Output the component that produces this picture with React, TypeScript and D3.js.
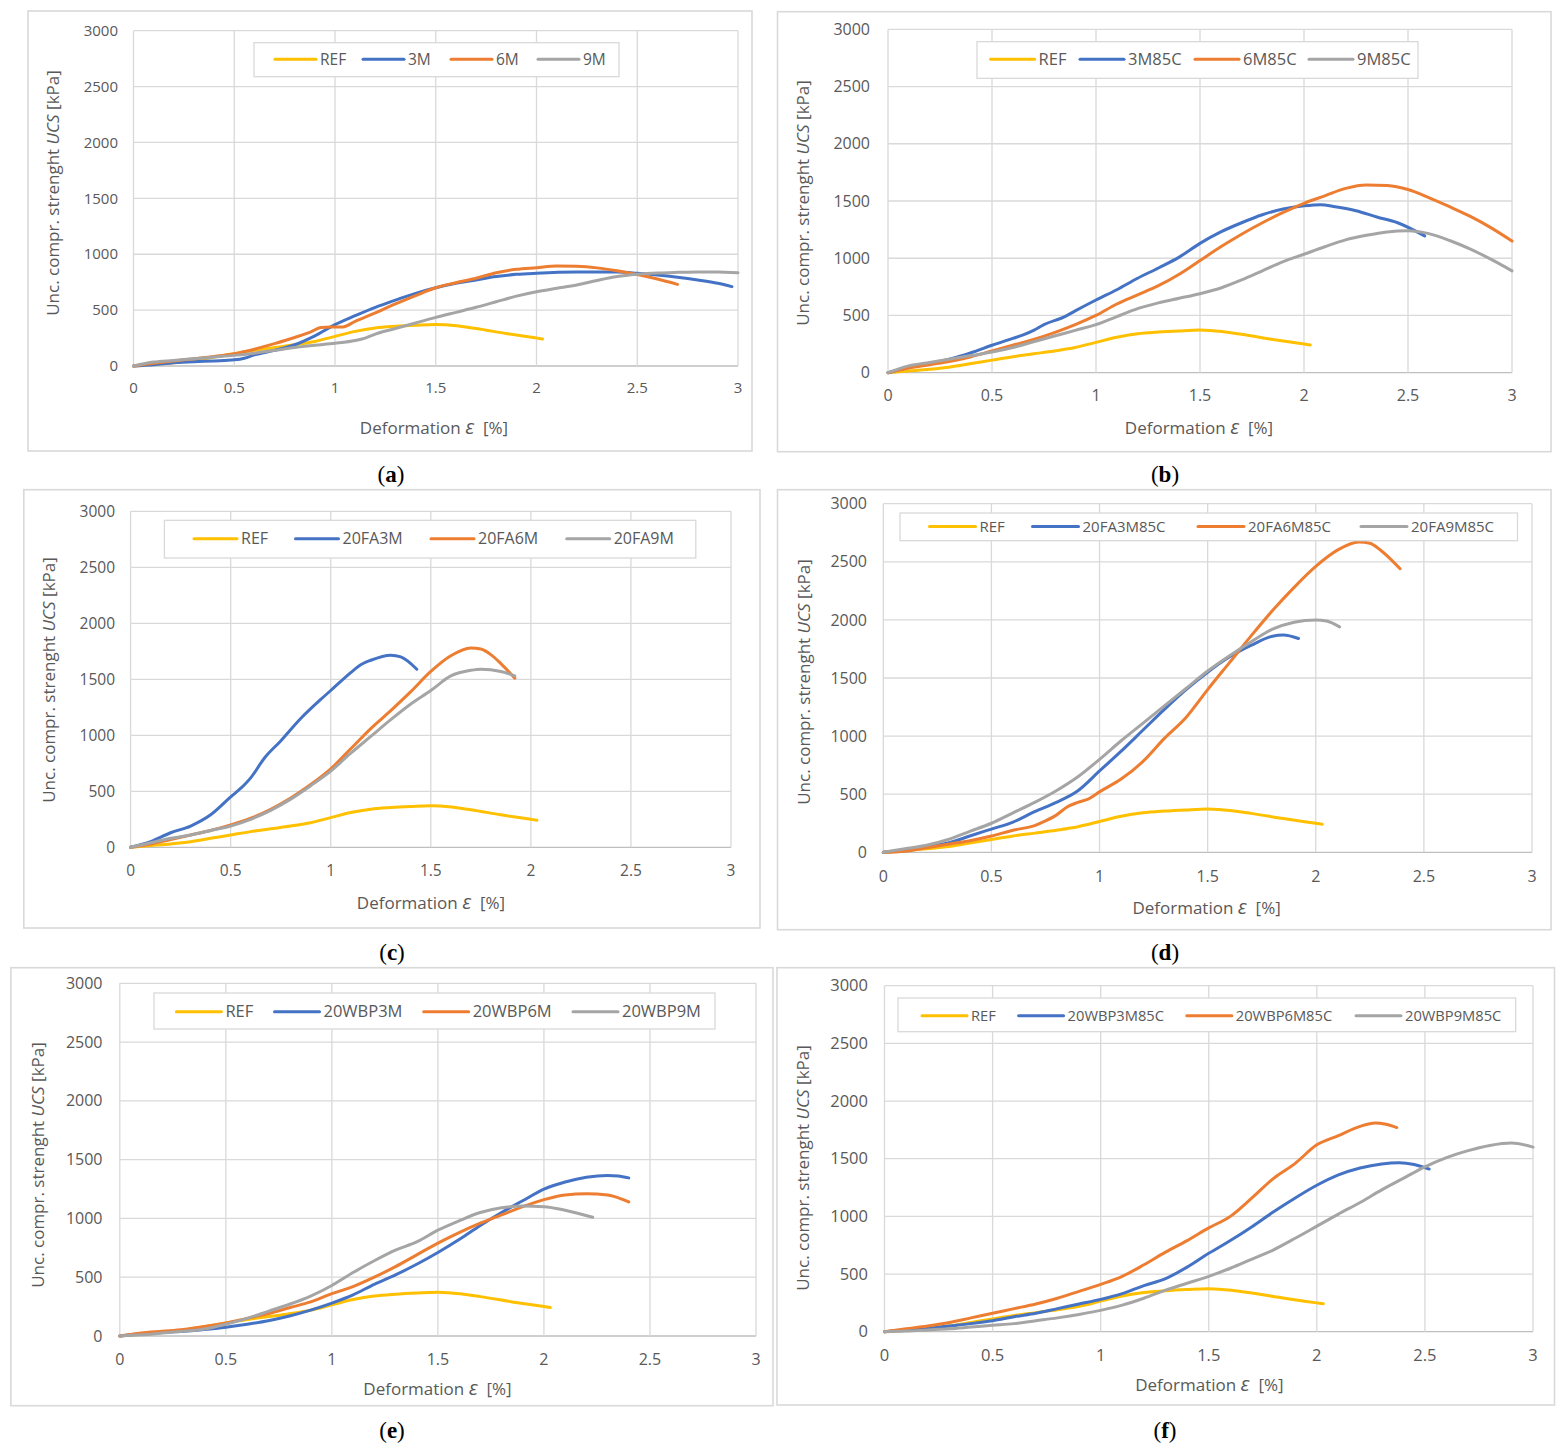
import React from "react";
import * as d3 from "d3";

type Pt = [number, number];

// ---------- data (deformation %, UCS kPa) ----------
const REF: Pt[] = [[0,0],[0.1,15],[0.2,30],[0.3,50],[0.4,80],[0.5,110],[0.6,140],[0.7,165],[0.8,190],[0.9,220],[1.0,265],[1.1,310],[1.2,340],[1.3,355],[1.4,365],[1.5,372],[1.55,368],[1.7,335],[1.85,290],[2.0,250],[2.03,242]];

const A_3M: Pt[] = [[0,0],[0.1,12],[0.2,28],[0.3,38],[0.4,45],[0.5,55],[0.55,70],[0.6,100],[0.7,140],[0.8,190],[0.9,270],[1.0,370],[1.1,450],[1.2,525],[1.3,590],[1.4,650],[1.5,700],[1.6,740],[1.7,770],[1.8,800],[1.9,820],[2.0,830],[2.2,840],[2.4,840],[2.5,830],[2.6,815],[2.7,795],[2.8,770],[2.9,740],[2.97,710]];
const A_6M: Pt[] = [[0,0],[0.1,25],[0.2,45],[0.3,65],[0.4,85],[0.5,110],[0.6,150],[0.7,200],[0.8,255],[0.88,305],[0.93,345],[0.98,350],[1.04,350],[1.1,400],[1.2,475],[1.3,555],[1.4,630],[1.5,700],[1.6,745],[1.7,785],[1.8,835],[1.9,865],[2.0,880],[2.1,895],[2.2,892],[2.3,878],[2.4,852],[2.5,818],[2.6,778],[2.7,730]];
const A_9M: Pt[] = [[0,0],[0.1,35],[0.2,50],[0.3,65],[0.4,80],[0.5,95],[0.6,115],[0.7,140],[0.8,165],[0.9,185],[1.0,203],[1.1,228],[1.15,250],[1.2,285],[1.3,335],[1.4,385],[1.5,435],[1.6,480],[1.7,525],[1.8,575],[1.9,625],[2.0,665],[2.1,695],[2.2,725],[2.3,765],[2.4,800],[2.5,820],[2.6,832],[2.7,838],[2.8,842],[2.9,840],[3.0,835]];

const B_3M85C: Pt[] = [[0,0],[0.1,45],[0.2,80],[0.3,120],[0.4,175],[0.5,240],[0.6,300],[0.65,330],[0.7,370],[0.75,420],[0.85,490],[0.9,540],[1.0,635],[1.1,725],[1.2,825],[1.3,915],[1.4,1010],[1.5,1130],[1.6,1230],[1.7,1310],[1.8,1380],[1.9,1430],[2.0,1458],[2.08,1468],[2.15,1450],[2.25,1415],[2.35,1360],[2.45,1310],[2.58,1195]];
const B_6M85C: Pt[] = [[0,0],[0.1,40],[0.2,70],[0.3,100],[0.4,140],[0.5,190],[0.6,240],[0.7,290],[0.8,350],[0.9,420],[1.0,500],[1.1,600],[1.2,680],[1.3,760],[1.4,860],[1.5,980],[1.6,1100],[1.7,1210],[1.8,1310],[1.9,1400],[2.0,1480],[2.1,1545],[2.2,1610],[2.3,1640],[2.4,1635],[2.5,1600],[2.6,1530],[2.7,1450],[2.8,1365],[2.9,1265],[3.0,1150]];
const B_9M85C: Pt[] = [[0,0],[0.1,60],[0.2,90],[0.3,120],[0.4,150],[0.5,180],[0.6,220],[0.7,270],[0.8,320],[0.9,370],[1.0,420],[1.1,490],[1.2,560],[1.3,610],[1.4,650],[1.5,690],[1.6,740],[1.7,810],[1.8,890],[1.9,970],[2.0,1035],[2.1,1100],[2.2,1160],[2.3,1200],[2.4,1230],[2.5,1240],[2.6,1215],[2.7,1155],[2.8,1080],[2.9,990],[3.0,890]];

const C_20FA3M: Pt[] = [[0,0],[0.1,50],[0.2,130],[0.3,190],[0.4,290],[0.5,450],[0.57,560],[0.6,620],[0.67,800],[0.75,950],[0.85,1150],[0.95,1320],[1.0,1400],[1.1,1560],[1.15,1630],[1.2,1670],[1.3,1715],[1.35,1700],[1.43,1590]];
const C_20FA6M: Pt[] = [[0,0],[0.1,30],[0.2,70],[0.3,110],[0.4,150],[0.5,200],[0.6,260],[0.7,340],[0.8,440],[0.9,560],[1.0,700],[1.1,880],[1.2,1060],[1.3,1220],[1.4,1390],[1.5,1570],[1.6,1710],[1.7,1780],[1.75,1770],[1.8,1720],[1.85,1640],[1.92,1510]];
const C_20FA9M: Pt[] = [[0,0],[0.1,40],[0.2,80],[0.3,110],[0.4,150],[0.5,190],[0.6,250],[0.7,330],[0.8,430],[0.9,550],[1.0,680],[1.1,840],[1.2,990],[1.3,1140],[1.4,1280],[1.5,1400],[1.6,1530],[1.7,1580],[1.75,1590],[1.85,1570],[1.92,1530]];

const D_20FA3M85C: Pt[] = [[0,0],[0.1,20],[0.2,50],[0.3,80],[0.4,140],[0.5,200],[0.6,260],[0.7,350],[0.8,430],[0.9,530],[1.0,700],[1.1,870],[1.2,1050],[1.3,1230],[1.4,1400],[1.5,1550],[1.6,1680],[1.7,1780],[1.8,1860],[1.85,1870],[1.92,1840]];
const D_20FA6M85C: Pt[] = [[0,0],[0.1,10],[0.2,40],[0.3,70],[0.4,100],[0.5,140],[0.6,190],[0.7,230],[0.75,270],[0.8,320],[0.85,390],[0.9,430],[0.95,460],[1.0,520],[1.1,630],[1.2,780],[1.3,980],[1.4,1160],[1.5,1400],[1.6,1630],[1.7,1860],[1.8,2080],[1.9,2280],[2.0,2460],[2.1,2600],[2.2,2670],[2.25,2660],[2.3,2600],[2.39,2440]];
const D_20FA9M85C: Pt[] = [[0,0],[0.1,30],[0.2,60],[0.3,110],[0.4,180],[0.5,250],[0.6,340],[0.7,430],[0.8,530],[0.9,650],[1.0,800],[1.1,960],[1.2,1110],[1.3,1260],[1.4,1410],[1.5,1560],[1.6,1690],[1.7,1810],[1.8,1920],[1.9,1980],[2.0,2000],[2.05,1990],[2.11,1940]];

const E_20WBP3M: Pt[] = [[0,0],[0.1,20],[0.2,30],[0.3,40],[0.4,55],[0.5,75],[0.6,100],[0.7,130],[0.8,170],[0.9,220],[1.0,280],[1.1,350],[1.2,440],[1.3,520],[1.4,610],[1.5,710],[1.6,820],[1.7,940],[1.8,1050],[1.9,1150],[2.0,1250],[2.1,1310],[2.2,1350],[2.3,1365],[2.35,1360],[2.4,1345]];
const E_20WBP6M: Pt[] = [[0,0],[0.1,25],[0.2,40],[0.3,55],[0.4,80],[0.5,110],[0.6,150],[0.7,190],[0.8,240],[0.9,290],[1.0,360],[1.1,420],[1.2,500],[1.3,590],[1.4,690],[1.5,790],[1.6,880],[1.7,960],[1.8,1030],[1.9,1100],[2.0,1160],[2.1,1200],[2.2,1210],[2.3,1200],[2.4,1140]];
const E_20WBP9M: Pt[] = [[0,0],[0.1,10],[0.2,25],[0.3,40],[0.4,60],[0.5,100],[0.6,150],[0.7,210],[0.8,270],[0.9,340],[1.0,430],[1.1,540],[1.2,640],[1.3,730],[1.4,800],[1.5,900],[1.6,980],[1.7,1050],[1.8,1090],[1.9,1105],[2.0,1100],[2.1,1070],[2.23,1010]];

const F_20WBP3M85C: Pt[] = [[0,0],[0.1,15],[0.2,30],[0.3,50],[0.4,70],[0.5,95],[0.6,130],[0.7,160],[0.8,200],[0.9,240],[1.0,280],[1.1,330],[1.2,400],[1.3,460],[1.4,560],[1.5,680],[1.6,790],[1.7,910],[1.8,1040],[1.9,1160],[2.0,1270],[2.1,1360],[2.2,1420],[2.3,1455],[2.38,1465],[2.45,1450],[2.52,1410]];
const F_20WBP6M85C: Pt[] = [[0,0],[0.1,25],[0.2,50],[0.3,80],[0.4,120],[0.5,160],[0.6,200],[0.7,240],[0.8,290],[0.9,350],[1.0,410],[1.1,480],[1.2,580],[1.3,690],[1.4,790],[1.5,900],[1.6,1000],[1.7,1160],[1.8,1330],[1.9,1460],[2.0,1620],[2.1,1700],[2.2,1780],[2.27,1810],[2.32,1798],[2.37,1770]];
const F_20WBP9M85C: Pt[] = [[0,0],[0.1,5],[0.2,15],[0.3,25],[0.4,40],[0.5,55],[0.6,70],[0.7,95],[0.8,120],[0.9,150],[1.0,185],[1.1,230],[1.2,290],[1.3,360],[1.4,420],[1.5,480],[1.6,550],[1.7,630],[1.8,710],[1.9,810],[2.0,915],[2.1,1020],[2.2,1120],[2.3,1230],[2.4,1330],[2.5,1430],[2.6,1510],[2.7,1570],[2.8,1615],[2.9,1636],[3.0,1600]];

const X_TICKS = [0, 0.5, 1, 1.5, 2, 2.5, 3];
const Y_TICKS = [0, 500, 1000, 1500, 2000, 2500, 3000];

const SERIES_COLORS = ["#FFC000", "#4472C4", "#ED7D31", "#A5A5A5"];

const PANEL_LABELS = ["a", "b", "c", "d", "e", "f"];
const PANEL_NAMES: string[][] = [
  ["REF", "3M", "6M", "9M"],
  ["REF", "3M85C", "6M85C", "9M85C"],
  ["REF", "20FA3M", "20FA6M", "20FA9M"],
  ["REF", "20FA3M85C", "20FA6M85C", "20FA9M85C"],
  ["REF", "20WBP3M", "20WBP6M", "20WBP9M"],
  ["REF", "20WBP3M85C", "20WBP6M85C", "20WBP9M85C"],
];
const PANEL_DATA: Pt[][][] = [
  [REF, A_3M, A_6M, A_9M],
  [REF, B_3M85C, B_6M85C, B_9M85C],
  [REF, C_20FA3M, C_20FA6M, C_20FA9M],
  [REF, D_20FA3M85C, D_20FA6M85C, D_20FA9M85C],
  [REF, E_20WBP3M, E_20WBP6M, E_20WBP9M],
  [REF, F_20WBP3M85C, F_20WBP6M85C, F_20WBP9M85C],
];

// ---------- layout ----------
type Layout = {
  box: [number, number, number, number];
  plot: { l: number; r: number; t: number; b: number };
  yTickRight: number;
  xTickY: number;
  xTitle: [number, number];
  yTitle: [number, number];
  legBox: [number, number, number, number];
  legX: number[];
  legLen: number;
  legY: number;
  legFont: number;
  tickFont: number;
  caption: [number, number];
};

const LAYOUTS: Layout[] = [
  { box: [28, 11, 752, 451], plot: { l: 133.5, r: 738, t: 30.7, b: 366 }, yTickRight: 118, xTickY: 388, xTitle: [434, 428], yTitle: [53, 193], legBox: [254, 42.7, 619, 76.7], legX: [275, 363, 451, 538], legLen: 41, legY: 59.3, legFont: 15.5, tickFont: 15, caption: [391, 474] },
  { box: [777.5, 11.7, 1551, 451.7], plot: { l: 888, r: 1512, t: 29.3, b: 372.7 }, yTickRight: 870, xTickY: 395, xTitle: [1199, 428], yTitle: [803.5, 203], legBox: [977, 41.7, 1418, 78.3], legX: [990.6, 1080, 1195, 1309], legLen: 44, legY: 59.3, legFont: 16.5, tickFont: 16, caption: [1165, 474] },
  { box: [23.8, 489.7, 760, 928], plot: { l: 130.6, r: 731, t: 511.3, b: 847.3 }, yTickRight: 115, xTickY: 870.7, xTitle: [431, 903], yTitle: [49.5, 680], legBox: [164.4, 520.3, 695.8, 558], legX: [194, 295.5, 431, 566.7], legLen: 43, legY: 538.7, legFont: 16, tickFont: 15.5, caption: [392, 952] },
  { box: [777.5, 489.7, 1551, 929.7], plot: { l: 883.3, r: 1532, t: 503.7, b: 852.3 }, yTickRight: 867, xTickY: 876, xTitle: [1206.6, 908], yTitle: [804, 682], legBox: [900, 513, 1517.5, 540.7], legX: [929.5, 1032.5, 1198, 1361], legLen: 46, legY: 526.5, legFont: 15, tickFont: 16, caption: [1165, 952] },
  { box: [10.9, 967.7, 773, 1405.7], plot: { l: 119.8, r: 756, t: 983.3, b: 1336 }, yTickRight: 102.5, xTickY: 1359, xTitle: [437.5, 1389], yTitle: [38, 1165], legBox: [154, 993, 715, 1029], legX: [176.4, 274.5, 423.7, 573], legLen: 45, legY: 1011.7, legFont: 16.5, tickFont: 16, caption: [392, 1430] },
  { box: [777, 967.7, 1554.5, 1405], plot: { l: 884.5, r: 1533, t: 985.7, b: 1331.7 }, yTickRight: 868, xTickY: 1355, xTitle: [1209.4, 1385], yTitle: [802.6, 1168], legBox: [898, 998, 1515.7, 1031.7], legX: [922, 1018.6, 1186.8, 1356], legLen: 45, legY: 1015.7, legFont: 14.7, tickFont: 16.5, caption: [1165, 1430] },
];

const FONT = "'Open Sans', 'Noto Sans', 'Liberation Sans', sans-serif";
const TEXT_COLOR = "#595959";
const GRID = "#d9d9d9";

function Panel({ idx }: { idx: number }) {
  const L = LAYOUTS[idx];
  const data = PANEL_DATA[idx];
  const names = PANEL_NAMES[idx];
  const x = d3.scaleLinear().domain([0, 3]).range([L.plot.l, L.plot.r]);
  const y = d3.scaleLinear().domain([0, 3000]).range([L.plot.b, L.plot.t]);
  const line = d3
    .line<Pt>()
    .x((d) => x(d[0]))
    .y((d) => y(d[1]))
    .curve(d3.curveMonotoneX);
  const [bx0, by0, bx1, by1] = L.box;
  const [lx0, ly0, lx1, ly1] = L.legBox;
  return (
    <g>
      <rect x={bx0} y={by0} width={bx1 - bx0} height={by1 - by0} fill="#fff" stroke={GRID} strokeWidth={1.6} />
      {Y_TICKS.map((t) => (
        <line key={"gy" + t} x1={L.plot.l} x2={L.plot.r} y1={y(t)} y2={y(t)} stroke={t === 0 ? "#bfbfbf" : GRID} strokeWidth={1.3} />
      ))}
      {X_TICKS.map((t) => (
        <line key={"gx" + t} x1={x(t)} x2={x(t)} y1={L.plot.t} y2={L.plot.b} stroke={GRID} strokeWidth={1.3} />
      ))}
      {Y_TICKS.map((t) => (
        <text key={"ty" + t} x={L.yTickRight} y={y(t)} dy="0.35em" textAnchor="end" fontSize={L.tickFont} fill={TEXT_COLOR} fontFamily={FONT}>
          {t}
        </text>
      ))}
      {X_TICKS.map((t) => (
        <text key={"tx" + t} x={x(t)} y={L.xTickY} dy="0.35em" textAnchor="middle" fontSize={L.tickFont} fill={TEXT_COLOR} fontFamily={FONT}>
          {t}
        </text>
      ))}
      <text x={L.xTitle[0]} y={L.xTitle[1]} dy="0.35em" textAnchor="middle" fontSize={17} fill={TEXT_COLOR} fontFamily={FONT} style={{ whiteSpace: "pre" }}>
        {"Deformation "}
        <tspan fontStyle="italic" fontSize={20}>ε</tspan>
        {"  [%]"}
      </text>
      <text
        transform={`translate(${L.yTitle[0]},${L.yTitle[1]}) rotate(-90)`}
        dy="0.35em"
        textAnchor="middle"
        fontSize={17}
        fill={TEXT_COLOR}
        fontFamily={FONT}
      >
        {"Unc. compr. strenght "}
        <tspan fontStyle="italic">UCS</tspan>
        {" [kPa]"}
      </text>
      {data.map((s, i) => (
        <path key={"s" + i} d={line(s) || ""} fill="none" stroke={SERIES_COLORS[i]} strokeWidth={3} strokeLinecap="round" strokeLinejoin="round" />
      ))}
      <rect x={lx0} y={ly0} width={lx1 - lx0} height={ly1 - ly0} fill="#fff" stroke={GRID} strokeWidth={1.3} />
      {names.map((n, i) => (
        <g key={"l" + i}>
          <line x1={L.legX[i]} x2={L.legX[i] + L.legLen} y1={L.legY} y2={L.legY} stroke={SERIES_COLORS[i]} strokeWidth={3} strokeLinecap="round" />
          <text x={L.legX[i] + L.legLen + 4} y={L.legY} dy="0.35em" fontSize={L.legFont} fill={TEXT_COLOR} fontFamily={FONT}>
            {n}
          </text>
        </g>
      ))}
      <text x={L.caption[0]} y={L.caption[1]} dy="0.35em" textAnchor="middle" fontSize={23} fill="#000" fontFamily="'Liberation Serif', 'DejaVu Serif', serif">
        {"("}
        <tspan fontWeight="bold">{PANEL_LABELS[idx]}</tspan>
        {")"}
      </text>
    </g>
  );
}

export default function App() {
  return (
    <svg
      width={1563}
      height={1451}
      viewBox="0 0 1563 1451"
      style={{ position: "absolute", left: 0, top: 0, background: "#fff" }}
    >
      <rect x={0} y={0} width={1563} height={1451} fill="#fff" />
      {LAYOUTS.map((_, i) => (
        <Panel key={i} idx={i} />
      ))}
    </svg>
  );
}
